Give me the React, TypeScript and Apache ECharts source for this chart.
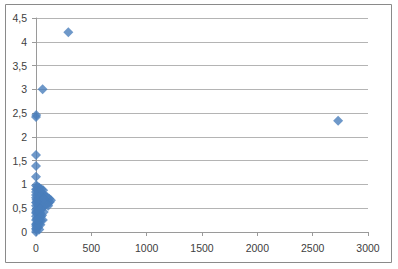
import React, { useEffect, useRef } from "react";
import * as echarts from "echarts";

// Scatter values: [x, y]
const clusterPoints: [number, number][] = [
  [0, 0], [3, 0.04], [6, 0.08], [2, 0.12], [10, 0.15], [4, 0.18], [15, 0.2],
  [25, 0.22], [45, 0.24], [62, 0.25], [35, 0.27], [8, 0.28], [18, 0.31],
  [0, 0.33], [28, 0.35], [12, 0.38], [38, 0.4], [2, 0.42], [22, 0.45],
  [48, 0.47], [8, 0.5], [35, 0.5], [60, 0.52], [75, 0.55], [18, 0.56],
  [92, 0.58], [110, 0.6], [125, 0.63], [135, 0.67], [120, 0.7], [102, 0.73],
  [85, 0.76], [68, 0.79], [52, 0.82], [38, 0.85], [22, 0.88], [8, 0.9],
  [30, 0.93], [12, 0.96], [0, 0.98], [45, 0.68], [60, 0.72], [28, 0.65],
  [5, 0.62], [0, 0.72], [15, 0.78], [0, 0.84], [50, 0.6], [32, 0.57],
  [4, 0.68], [0, 0.55], [20, 0.1], [0, 0.25], [40, 0.15], [30, 0.05],
  [55, 0.35], [70, 0.42], [65, 0.88], [80, 0.66], [95, 0.64], [110, 0.55],
  [0, 0.07], [0, 0.15], [0, 0.4], [0, 0.47], [0, 0.62], [0, 0.78],
  [0, 0.9], [20, 0.82], [20, 0.72], [40, 0.76], [30, 0.45], [15, 0.68],
  [45, 0.32], [25, 0.15], [12, 0.25], [50, 0.9], [70, 0.7], [85, 0.6],
];
const outlierPoints: [number, number][] = [
  [0, 1.16], [0, 1.39], [0, 1.62], [0, 2.42], [2, 2.46],
  [60, 3.0], [292, 4.2], [2730, 2.34],
];
const xTicks = { min: 0, max: 3000, interval: 500 };
const yTicks = { min: 0, max: 4.5, interval: 0.5 };

export default function App() {
  const ref = useRef<HTMLDivElement>(null);

  useEffect(() => {
    document.body.style.margin = "0";
    if (!ref.current) return;
    const chart = echarts.init(ref.current, undefined, { renderer: "svg" });
    const font = "Liberation Sans";
    chart.setOption({
      animation: false,
      backgroundColor: "#ffffff",
      grid: { left: 36, right: 30, top: 18, bottom: 37 },
      xAxis: {
        type: "value",
        ...xTicks,
        axisLine: { show: true, lineStyle: { color: "#9a9a9a", width: 1 } },
        axisTick: { show: true, length: 4, lineStyle: { color: "#9a9a9a" } },
        splitLine: { show: false },
        axisLabel: {
          color: "#404040",
          fontFamily: font,
          fontSize: 10.5,
          margin: 10,
          formatter: (v: number) => String(v),
        },
      },
      yAxis: {
        type: "value",
        ...yTicks,
        axisLine: { show: true, lineStyle: { color: "#9a9a9a", width: 1 } },
        axisTick: { show: true, length: 4, lineStyle: { color: "#9a9a9a" } },
        splitLine: { show: true, lineStyle: { color: "#b4b4b4", width: 1 } },
        axisLabel: {
          color: "#404040",
          fontFamily: font,
          fontSize: 10.5,
          margin: 9,
          formatter: (v: number) => String(v).replace(".", ","),
        },
      },
      graphic: [
        {
          type: "rect",
          shape: { x: 5.5, y: 4.5, width: 386, height: 258 },
          style: { fill: "none", stroke: "#8a8a8a", lineWidth: 1 },
          silent: true,
        },
      ],
      series: [
        {
          type: "scatter",
          symbol: "diamond",
          symbolSize: 10,
          itemStyle: { color: "#4A7EBB" },
          data: [...clusterPoints, ...outlierPoints],
        },
      ],
    });
    return () => chart.dispose();
  }, []);

  return <div ref={ref} style={{ width: 398, height: 269 }} />;
}
